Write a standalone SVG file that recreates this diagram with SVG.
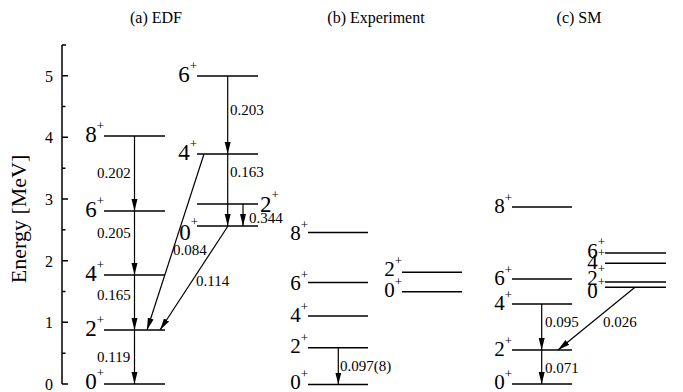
<svg xmlns="http://www.w3.org/2000/svg" width="683" height="392" viewBox="0 0 683 392" font-family="'Liberation Serif','Times New Roman',serif">
<style>
text{font-family:"Liberation Serif","Times New Roman",serif;fill:#000}
.title{font-size:16px;text-anchor:middle}
.tick{font-size:16px;text-anchor:end}
.axl{font-size:22px;text-anchor:middle}
.lv line{stroke:#000;stroke-width:1.5}
.big{font-size:23px;text-anchor:end}
.med{font-size:21px;text-anchor:end}
.sup{font-size:13px}
.num{font-size:15px}
.ax{stroke:#000;stroke-width:1.5;fill:none}
.arr line{stroke:#000;stroke-width:1.2;marker-end:url(#ah)}
</style>
<defs>
<marker id="ah" markerUnits="userSpaceOnUse" markerWidth="12" markerHeight="8" viewBox="0 0 12 8" refX="12" refY="4" orient="auto">
<path d="M0,1 L12,4 L0,7 Z" fill="#000"/>
</marker>
</defs>
<rect width="683" height="392" fill="#fff"/>

<text class="title" x="156" y="23">(a) EDF</text>
<text class="title" x="376" y="23">(b) Experiment</text>
<text class="title" x="579" y="23">(c) SM</text>

<g id="axis">
<path class="ax" d="M62,45 V384 M62,45 H66 M62,384 H68 M62,322.3 H68 M62,260.7 H68 M62,199 H68 M62,137.3 H68 M62,75.7 H68 M62,353.2 H65.5 M62,291.5 H65.5 M62,229.8 H65.5 M62,168.2 H65.5 M62,106.5 H65.5"/>
<text class="tick" x="53" y="389.5">0</text>
<text class="tick" x="53" y="328.3">1</text>
<text class="tick" x="53" y="266.7">2</text>
<text class="tick" x="53" y="205">3</text>
<text class="tick" x="53" y="143.3">4</text>
<text class="tick" x="53" y="81.7">5</text>
<text class="axl" transform="translate(26,219) rotate(-90)">Energy [MeV]</text>
</g>

<g id="edf-l-0" class="lv"><line x1="104" y1="384" x2="165" y2="384"/><text class="big" x="104" y="389">0<tspan class="sup" dy="-12">+</tspan></text></g>
<g id="edf-l-2" class="lv"><line x1="104" y1="330" x2="165" y2="330"/><text class="big" x="104" y="336">2<tspan class="sup" dy="-12">+</tspan></text></g>
<g id="edf-l-4" class="lv"><line x1="104" y1="275" x2="165" y2="275"/><text class="big" x="104" y="281">4<tspan class="sup" dy="-12">+</tspan></text></g>
<g id="edf-l-6" class="lv"><line x1="104" y1="211" x2="165" y2="211"/><text class="big" x="104" y="217">6<tspan class="sup" dy="-12">+</tspan></text></g>
<g id="edf-l-8" class="lv"><line x1="104" y1="136" x2="165" y2="136"/><text class="big" x="104" y="142">8<tspan class="sup" dy="-12">+</tspan></text></g>

<g id="edf-r-6" class="lv"><line x1="197" y1="76" x2="258" y2="76"/><text class="big" x="197" y="82">6<tspan class="sup" dy="-12">+</tspan></text></g>
<g id="edf-r-4" class="lv"><line x1="197" y1="154" x2="258" y2="154"/><text class="big" x="197" y="160">4<tspan class="sup" dy="-12">+</tspan></text></g>
<g id="edf-r-2" class="lv"><line x1="197" y1="204" x2="258" y2="204"/><text class="big" x="260" y="212" style="text-anchor:start">2<tspan class="sup" dy="-13">+</tspan></text></g>
<g id="edf-r-0" class="lv"><line x1="197" y1="226" x2="258" y2="226"/><text class="big" x="198" y="240">0<tspan class="sup" dy="-14">+</tspan></text></g>

<g id="exp-l-0" class="lv"><line x1="308" y1="384.5" x2="368" y2="384.5"/><text class="med" x="308" y="389">0<tspan class="sup" dy="-11">+</tspan></text></g>
<g id="exp-l-2" class="lv"><line x1="308" y1="347.7" x2="368" y2="347.7"/><text class="med" x="308" y="353">2<tspan class="sup" dy="-11">+</tspan></text></g>
<g id="exp-l-4" class="lv"><line x1="308" y1="316" x2="368" y2="316"/><text class="med" x="308" y="322">4<tspan class="sup" dy="-11">+</tspan></text></g>
<g id="exp-l-6" class="lv"><line x1="308" y1="282.5" x2="368" y2="282.5"/><text class="med" x="308" y="290">6<tspan class="sup" dy="-11">+</tspan></text></g>
<g id="exp-l-8" class="lv"><line x1="308" y1="232.5" x2="368" y2="232.5"/><text class="med" x="308" y="240">8<tspan class="sup" dy="-11">+</tspan></text></g>
<g id="exp-r-2" class="lv"><line x1="402" y1="272.3" x2="462" y2="272.3"/><text class="med" x="402" y="276">2<tspan class="sup" dy="-11">+</tspan></text></g>
<g id="exp-r-0" class="lv"><line x1="402" y1="291.8" x2="462" y2="291.8"/><text class="med" x="402" y="297">0<tspan class="sup" dy="-11">+</tspan></text></g>

<g id="sm-l-0" class="lv"><line x1="512" y1="384" x2="572" y2="384"/><text class="med" x="512" y="389">0<tspan class="sup" dy="-11">+</tspan></text></g>
<g id="sm-l-2" class="lv"><line x1="512" y1="350" x2="572" y2="350"/><text class="med" x="512" y="356">2<tspan class="sup" dy="-11">+</tspan></text></g>
<g id="sm-l-4" class="lv"><line x1="512" y1="304" x2="572" y2="304"/><text class="med" x="512" y="310">4<tspan class="sup" dy="-11">+</tspan></text></g>
<g id="sm-l-6" class="lv"><line x1="512" y1="279" x2="572" y2="279"/><text class="med" x="512" y="285">6<tspan class="sup" dy="-11">+</tspan></text></g>
<g id="sm-l-8" class="lv"><line x1="512" y1="207" x2="572" y2="207"/><text class="med" x="512" y="213">8<tspan class="sup" dy="-11">+</tspan></text></g>
<g id="sm-r-6" class="lv"><line x1="605" y1="253" x2="666" y2="253"/><text class="med" x="605" y="258">6<tspan class="sup" dy="-12">+</tspan></text></g>
<g id="sm-r-4" class="lv"><line x1="605" y1="263.3" x2="666" y2="263.3"/><text class="med" x="605" y="269">4<tspan class="sup" dy="-12">+</tspan></text></g>
<g id="sm-r-2" class="lv"><line x1="605" y1="282" x2="666" y2="282"/><text class="med" x="605" y="285">2<tspan class="sup" dy="-12">+</tspan></text></g>
<g id="sm-r-0" class="lv"><line x1="605" y1="287.3" x2="666" y2="287.3"/><text class="med" x="605" y="298">0<tspan class="sup" dy="-12">+</tspan></text></g>

<g id="connectors" class="arr">
<line x1="134.5" y1="136" x2="134.5" y2="211"/>
<line x1="134.5" y1="211" x2="134.5" y2="275"/>
<line x1="134.5" y1="275" x2="134.5" y2="330"/>
<line x1="134.5" y1="330" x2="134.5" y2="384"/>
<line x1="227.7" y1="76" x2="227.7" y2="154"/>
<line x1="227.7" y1="154" x2="227.7" y2="226"/>
<line x1="243" y1="204" x2="243" y2="226"/>
<line x1="204" y1="154" x2="147" y2="330"/>
<line x1="228" y1="226" x2="160" y2="330"/>
<line x1="338.3" y1="347.7" x2="338.3" y2="384.5"/>
<line x1="541.7" y1="304" x2="541.7" y2="350"/>
<line x1="541.7" y1="350" x2="541.7" y2="384"/>
<line x1="635" y1="287.3" x2="558" y2="350"/>
<text class="num" x="97" y="178">0.202</text>
<text class="num" x="97" y="238">0.205</text>
<text class="num" x="97" y="300">0.165</text>
<text class="num" x="97" y="362">0.119</text>
<text class="num" x="230" y="115">0.203</text>
<text class="num" x="230" y="177">0.163</text>
<text class="num" x="249" y="223">0.344</text>
<text class="num" x="173" y="255">0.084</text>
<text class="num" x="196" y="286">0.114</text>
<text class="num" x="340" y="371">0.097(8)</text>
<text class="num" x="545" y="327">0.095</text>
<text class="num" x="545" y="373">0.071</text>
<text class="num" x="603" y="327">0.026</text>
</g>
</svg>
